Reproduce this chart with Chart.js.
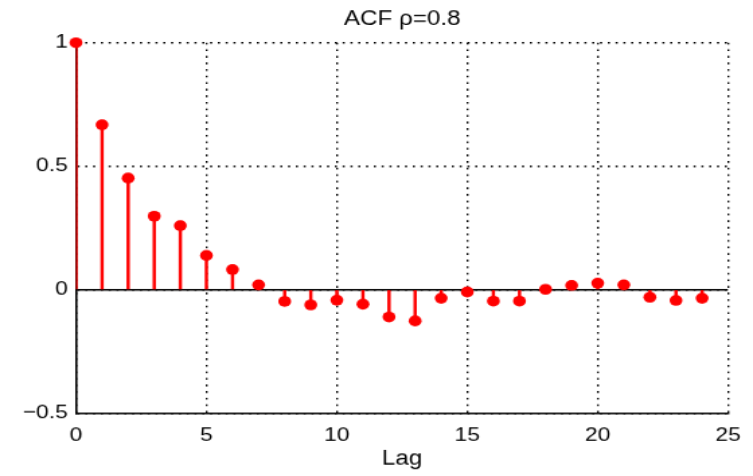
<!DOCTYPE html>
<html>
<head>
<meta charset="utf-8">
<script src="https://cdn.jsdelivr.net/npm/chart.js@4/dist/chart.umd.min.js"></script>
<style>
	html, body { margin: 0; padding: 0; background: #fff; }
	#wrap { width: 753px; height: 476px; overflow: hidden; }
	/* the figure is drawn at 560x420 and stretched, like the picture */
	#acf { width: 560px; height: 420px; transform: scale(1.3446, 1.1333); transform-origin: 0 0; }
</style>
</head>
<body>
<div id="wrap"><canvas id="acf" width="560" height="420"></canvas></div>
<script>
const titleText = 'ACF ρ=0.8';
const lags = [0, 1, 2, 3, 4, 5, 6, 7, 8, 9, 10, 11, 12, 13, 14, 15, 16, 17, 18, 19, 20, 21, 22, 23, 24];
const acf = [1, 0.668, 0.452, 0.298, 0.26, 0.139, 0.082, 0.02, -0.047, -0.061, -0.042, -0.058,
	-0.11, -0.126, -0.034, -0.009, -0.046, -0.046, 0.002, 0.018, 0.027, 0.02, -0.03, -0.043, -0.034];
const xTicks = [0, 5, 10, 15, 20, 25];
const yTicks = [-0.5, 0, 0.5, 1];

const RED = '#ff0000';
const FONT = '"Liberation Sans", Arial, sans-serif';

const points = lags.map((lag, i) => ({x: lag, y: acf[i]}));
const baseline = [{x: xTicks[0], y: 0}, {x: xTicks[xTicks.length - 1], y: 0}];

const titlePlugin = {
	id: 'acfTitle',
	afterDraw(chart)
	{
		const {ctx, chartArea} = chart;
		ctx.save();
		ctx.font = '18px ' + FONT;
		ctx.fillStyle = '#000';
		ctx.textAlign = 'center';
		ctx.textBaseline = 'middle';
		ctx.fillText(titleText, (chartArea.left + chartArea.right) / 2, 17.5);
		ctx.restore();
	}
};

new Chart(document.getElementById('acf'), {
	type: 'bar',
	data: {
		datasets: [
			{
				type: 'line',
				data: points,
				showLine: false,
				clip: false,
				pointRadius: 4.8,
				pointBackgroundColor: RED,
				pointBorderColor: RED,
				pointBorderWidth: 0,
				order: 0,
			},
			{
				type: 'bar',
				data: points,
				backgroundColor: RED,
				barThickness: 1.8,
				order: 1,
			},
			{
				type: 'line',
				data: baseline,
				borderColor: '#000',
				borderWidth: 1.6,
				pointRadius: 0,
				order: 2,
			},
		]
	},
	options: {
		responsive: false,
		animation: false,
		layout: {
			padding: {top: 37.7, right: 16.6, left: 0, bottom: 0}
		},
		plugins: {
			legend: {display: false},
			tooltip: {enabled: false},
		},
		scales: {
			x: {
				type: 'linear',
				min: 0,
				max: 25,
				offset: false,
				grid: {offset: false, color: '#000', lineWidth: 1.4, drawTicks: false},
				border: {display: true, color: '#000', width: 1.6, dash: [1.6, 4.2]},
				ticks: {padding: 9, color: '#000', font: {family: FONT, size: 17}},
				afterBuildTicks: (scale) => { scale.ticks = xTicks.map(v => ({value: v})); },
				afterFit: (scale) => { scale.height = 55.3; },
				title: {
					display: true,
					text: 'Lag',
					color: '#000',
					font: {family: FONT, size: 18},
					padding: {top: 0, bottom: 4},
				},
			},
			y: {
				type: 'linear',
				min: -0.5,
				max: 1,
				grid: {color: '#000', lineWidth: 1.4, drawTicks: false},
				border: {display: true, color: '#000', width: 1.6, dash: [1.6, 4.2]},
				ticks: {
					padding: 6,
					color: '#000',
					font: {family: FONT, size: 17},
					callback: (value) => String(value).replace('-', '\u2212'),
				},
				afterBuildTicks: (scale) => { scale.ticks = yTicks.map(v => ({value: v})); },
				afterFit: (scale) => { scale.width = 56.5; },
			},
		}
	},
	plugins: [titlePlugin],
});
</script>
</body>
</html>
